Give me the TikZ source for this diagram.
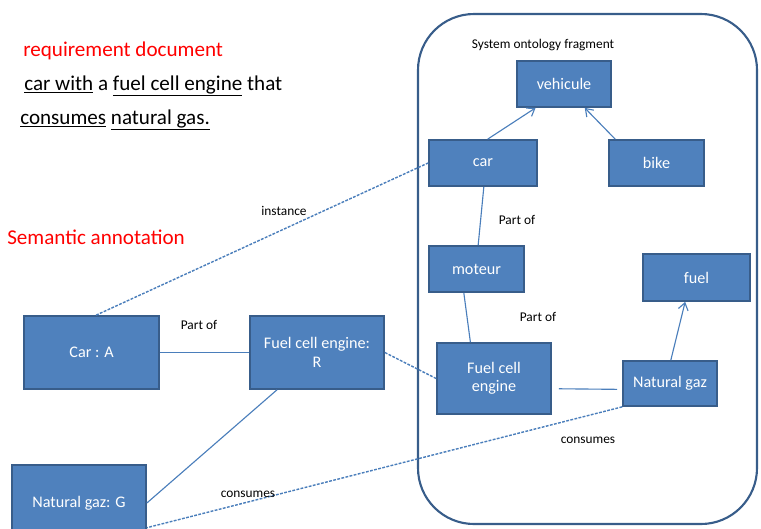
\documentclass[tikz,border=0pt]{standalone}
\usepackage{fontspec}
\setmainfont{Carlito}
\definecolor{boxFill}{RGB}{79,129,189}
\definecolor{boxDraw}{RGB}{56,93,138}
\definecolor{lineBlue}{RGB}{74,126,187}
\usepackage{tikz}
\usetikzlibrary{arrows.meta, positioning}

\begin{document}
\begin{tikzpicture}[
  x=0.025cm, y=-0.025cm,
  cls/.style={rectangle, draw=boxDraw, line width=1.2pt, fill=boxFill, text=white,
              align=center, font=\fontsize{11.5}{13}\selectfont, inner sep=1pt},
  lbl/.style={font=\fontsize{9.5}{11}\selectfont, inner sep=0pt},
  red/.style={font=\fontsize{15}{18}\selectfont, text=red, inner sep=0pt, anchor=west},
  link/.style={draw=lineBlue, line width=0.8pt},
  isa/.style={link, -{Straight Barb[length=5pt, width=7pt]}},
  dlink/.style={link, dashed, dash pattern=on 2pt off 1pt, line width=1pt}
]
\useasboundingbox (0,0) rectangle (761,528);

% Requirement
\node[red] (req) at (23,51) {requirement document};
\node[font=\fontsize{15}{18}\selectfont, anchor=west, inner sep=0pt] (txt1) at (24,86)
  {\underline{car with} a \underline{fuel cell engine} that};
\node[font=\fontsize{15}{18}\selectfont, anchor=west, inner sep=0pt] (txt2) at (20,120)
  {\underline{consumes} \underline{natural gas.}};
\node[red] (sem) at (7,237) {Semantic annotation};

% Ontologie
\draw[draw=boxDraw, line width=1.5pt, rounded corners=1.4cm] (418,14) rectangle (757,524);
\node[lbl] (onto) at (543,45) {System ontology fragment};
\node[cls, minimum width=2.35cm, minimum height=1.15cm] (veh) at (564,84) {vehicule};
\node[cls, minimum width=2.7cm, minimum height=1.15cm] (car) at (483,163) {car};
\node[cls, minimum width=2.375cm, minimum height=1.15cm] (bike) at (656.5,163) {bike};
\node[cls, minimum width=2.375cm, minimum height=1.15cm] (mot) at (476.5,269) {moteur};
\node[cls, minimum width=2.675cm, minimum height=1.175cm] (fuel) at (696.5,277.5) {fuel};
\node[cls, minimum width=2.85cm, minimum height=1.775cm] (fce) at (494,378.5) {Fuel cell\\engine};
\node[cls, minimum width=2.35cm, minimum height=1.125cm] (ngo) at (670,383.5) {Natural gaz};

\draw[isa] (car.79) -- (veh.220);
\draw[isa] (bike.150) -- (veh.-49);
\draw[link] (car.-88) -- (mot.86);
\draw[link] (mot.-118) -- (fce.123);
\draw[link, shorten <=5pt, shorten >=3.5pt] (fce.-10) -- (ngo.187);
\draw[isa] (ngo.88) -- (fuel.-115);
\node[lbl] (po1) at (517,220) {Part of};
\node[lbl] (po2) at (538,317) {Part of};

% Annotation
\node[cls, minimum width=3.375cm, minimum height=1.825cm] (carA) at (91.5,352.5) {Car : A};
\node[cls, minimum width=3.35cm, minimum height=1.825cm] (fceR) at (317,352.5) {Fuel cell engine:\\R};
\node[cls, minimum width=3.35cm, minimum height=1.9cm] (ngG) at (79,503) {Natural gaz: G};

\draw[link] (carA.east) -- (fceR.west);
\draw[link] (fceR.223) -- (ngG.east);
\node[lbl] (po3) at (199,325) {Part of};

% Liens semantiques
\draw[dlink] (carA.83) -- (car.west);
\draw[dlink] (fceR.east) -- (fce.west);
\draw[dlink] (ngo.south west) -- (ngG.-20);
\node[lbl] (inst) at (284,211) {instance};
\node[lbl] (cons1) at (588,440) {consumes};
\node[lbl] (cons2) at (248,494) {consumes};

\end{tikzpicture}
\end{document}
